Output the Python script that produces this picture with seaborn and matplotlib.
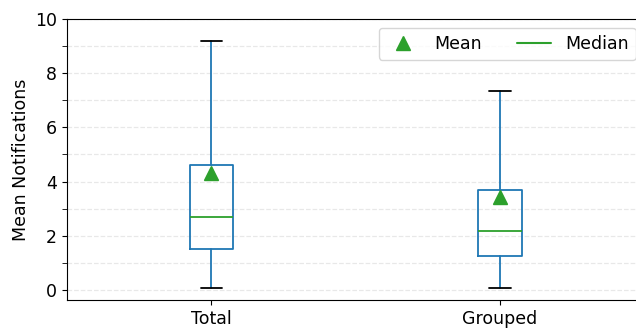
import matplotlib
matplotlib.use("Agg")
import matplotlib.pyplot as plt
from matplotlib.lines import Line2D
from matplotlib.ticker import MultipleLocator
import seaborn as sns

# -----------------------------
# Datos
# -----------------------------
groups = ["Total", "Grouped"]
whisker_low = [0.08, 0.08]
q1 = [1.52, 1.27]
medians = [2.69, 2.19]
q3 = [4.61, 3.69]
whisker_high = [9.19, 7.33]
means = [4.31, 3.42]

sns.set_style("ticks", rc={
    "axes.edgecolor": "black",
    "text.color": "black",
    "axes.labelcolor": "black",
    "xtick.color": "black",
    "ytick.color": "black",
    "axes.linewidth": 1.0,
})
plt.rcParams["font.sans-serif"] = ["DejaVu Sans"]
plt.rcParams["font.family"] = ["DejaVu Sans"]
plt.rcParams["font.size"] = 12.5
plt.rcParams["ytick.minor.size"] = 3.5
plt.rcParams["xtick.major.size"] = 3.5
plt.rcParams["ytick.major.size"] = 3.5

stats = [
    dict(label=g, whislo=lo, q1=a, med=m, q3=b, whishi=hi, mean=mu, fliers=[])
    for g, lo, a, m, b, hi, mu in zip(groups, whisker_low, q1, medians, q3, whisker_high, means)
]

fig = plt.figure(figsize=(6.36, 3.28), dpi=100)
ax = fig.add_axes([0.1053, 0.0854, 0.908, 0.8566])

ax.bxp(
    stats,
    positions=[1, 2],
    widths=0.15,
    showmeans=True,
    boxprops=dict(color="C0", linewidth=1.3),
    whiskerprops=dict(color="C0", linewidth=1.3),
    capprops=dict(color="k", linewidth=1.3),
    medianprops=dict(color="C2", linewidth=1.3),
    meanprops=dict(marker="^", markerfacecolor="C2", markeredgecolor="C2", markersize=9.5),
)

ax.set_xlim(0.5, 2.5)
ax.set_ylim(-0.37, 10)
ax.yaxis.set_major_locator(MultipleLocator(2))
ax.yaxis.set_minor_locator(MultipleLocator(1))
ax.grid(axis="y", which="both", linestyle="--", color="#e8e8e8", linewidth=0.9)
ax.set_axisbelow(True)
ax.set_ylabel("Mean Notifications")

handles = [
    Line2D([], [], marker="^", color="C2", linestyle="None", markersize=9.5),
    Line2D([], [], color="C2"),
]
ax.legend(handles, ["Mean", "Median"], loc="upper right", ncol=2)

fig.savefig("out.png", dpi=100)
